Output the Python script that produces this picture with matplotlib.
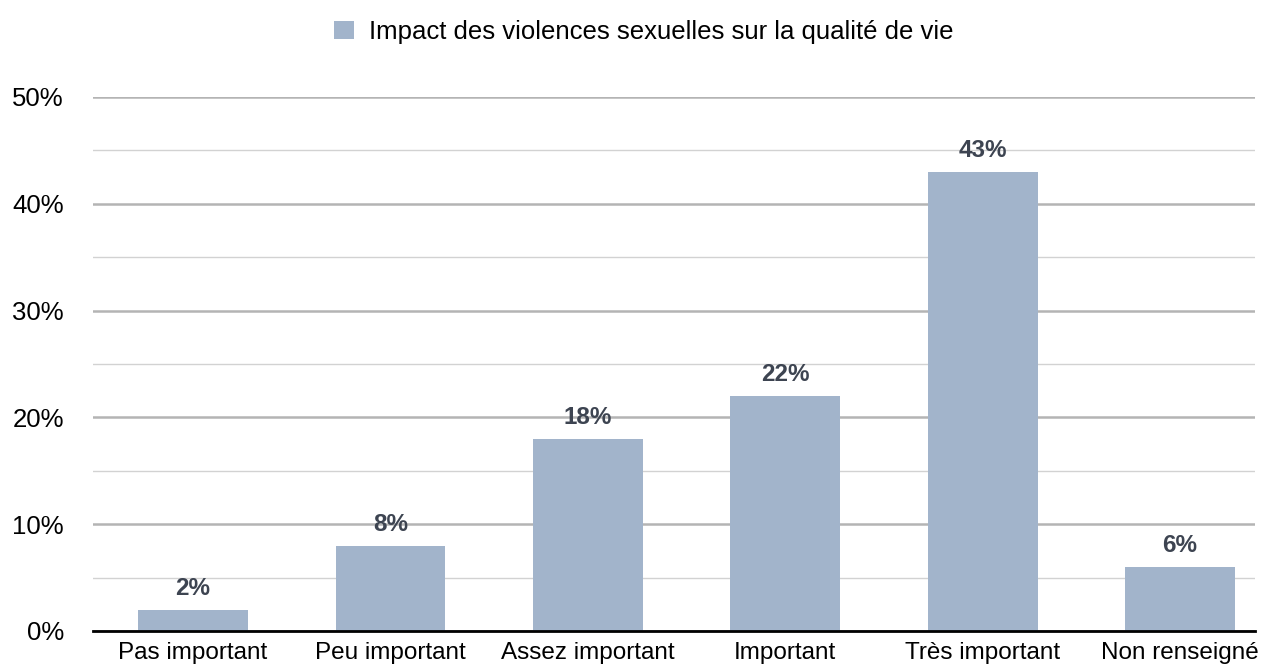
import numpy as np
import matplotlib.pyplot as plt
from matplotlib.ticker import MultipleLocator, PercentFormatter

categories = ["Pas important", "Peu important", "Assez important", "Important",
              "Très important", "Non renseigné"]
values = [2, 8, 18, 22, 43, 6]
series_name = "Impact des violences sexuelles sur la qualité de vie"

BAR_COLOR = "#a2b4cb"
LABEL_COLOR = "#3d4451"

plt.rcParams['font.family'] = ['Liberation Sans Narrow', 'Liberation Sans', 'DejaVu Sans']

fig = plt.figure(figsize=(12.69, 6.66), dpi=100)
ax = fig.add_axes([0.0733, 0.0526, 0.9157, 0.8018])

x = np.arange(len(categories))
bars = ax.bar(x, values, width=0.557, color=BAR_COLOR, label=series_name, zorder=3)

for xi, v in zip(x, values):
    ax.text(xi, v + 0.9, f"{v}%", ha="center", va="bottom", fontsize=17.5,
            fontweight="bold", color=LABEL_COLOR, zorder=4)

ax.set_xlim(-0.507, 5.38)
ax.set_ylim(0, 50)
ax.yaxis.set_major_locator(MultipleLocator(10))
ax.yaxis.set_minor_locator(MultipleLocator(5))
ax.yaxis.set_major_formatter(PercentFormatter(decimals=0))
ax.grid(axis="y", which="major", color="#b4b4b4", lw=1.8, zorder=0)
ax.grid(axis="y", which="minor", color="#d2d2d2", lw=1.0, zorder=0)

ax.set_xticks(x)
ax.set_xticklabels(categories)
ax.tick_params(axis="both", which="both", length=0)
ax.tick_params(axis="x", pad=8, labelsize=17.5)
ax.tick_params(axis="y", pad=21, labelsize=18.5)

for s in ["top", "right", "left"]:
    ax.spines[s].set_visible(False)
ax.spines["bottom"].set_color("black")
ax.spines["bottom"].set_linewidth(2)
ax.spines["bottom"].set_zorder(5)

fig.legend(handles=[bars], labels=[series_name], loc="center",
           bbox_to_anchor=(0.5075, 0.952), frameon=False, fontsize=18.5,
           handlelength=0.75, handleheight=0.75, handletextpad=0.6)

fig.savefig("out.png", dpi=100)
